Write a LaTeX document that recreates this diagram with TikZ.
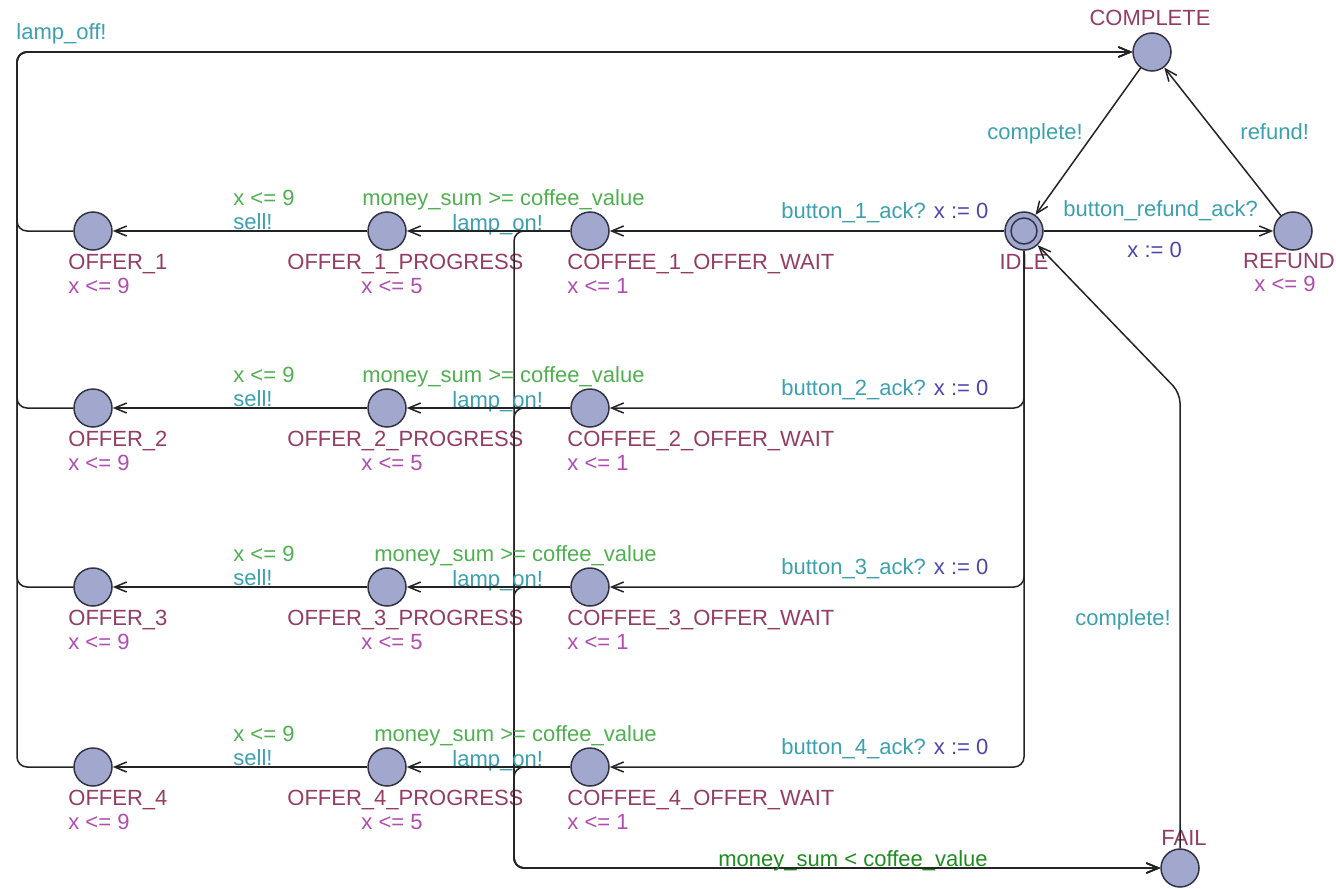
\documentclass[tikz,border=0pt]{standalone}
\usepackage{fontspec}
\setmainfont{Liberation Sans}
\usetikzlibrary{arrows.meta}
\definecolor{locfill}{RGB}{162,167,205}
\definecolor{locborder}{RGB}{50,52,70}
\definecolor{edgecol}{RGB}{35,35,35}
\definecolor{namecol}{RGB}{148,60,100}
\definecolor{invcol}{RGB}{176,76,176}
\definecolor{guardcol}{RGB}{80,175,80}
\definecolor{guarddark}{RGB}{30,140,30}
\definecolor{synccol}{RGB}{60,160,175}
\definecolor{assigncol}{RGB}{75,70,170}
\newcommand{\labfont}{\fontsize{11}{13}\selectfont}
\tikzset{
  loc/.style={circle, draw=locborder, fill=locfill, line width=0.75pt, minimum size=19pt, inner sep=0pt},
  edge/.style={draw=edgecol, line width=0.75pt, -{Straight Barb[length=6pt,width=5pt]}, rounded corners=5pt},
  lbl/.style={anchor=base west, inner sep=0pt, font=\labfont},
  nm/.style={lbl, text=namecol},
  inv/.style={lbl, text=invcol},
  grd/.style={lbl, text=guardcol},
  syn/.style={lbl, text=synccol},
  asg/.style={lbl, text=assigncol},
}
\begin{document}
\begin{tikzpicture}[x=0.5pt,y=-0.5pt]
\useasboundingbox (0,0) rectangle (1336,888);
% fixed locations
\node[loc] (idle) at (1024,231) {};
\draw[locborder, line width=0.75pt] (idle.center) circle[radius=6.5pt];
\node[loc] (refund) at (1293,231) {};
\node[loc] (complete) at (1152,52) {};
\node[loc] (fail) at (1180,868) {};
\node[nm, anchor=base] (nidle) at (1024,269) {IDLE};
\node[nm, anchor=base] (nrefund) at (1289,268) {REFUND};
\node[inv, anchor=base] (irefund) at (1285,291) {x <= 9};
\node[nm, anchor=base] (ncomplete) at (1150,26) {COMPLETE};
\node[nm, anchor=base] (nfail) at (1184,845) {FAIL};
% rows
\foreach \i/\r/\mx in {1/231/362, 2/408/362, 3/587/374, 4/767/374}{
  \node[loc] (o\i) at (93,\r) {};
  \node[loc] (p\i) at (387,\r) {};
  \node[loc] (w\i) at (590,\r) {};
  \node[nm] (no\i) at (68,\r+38) {OFFER\_\i};
  \node[inv] (io\i) at (68,\r+62) {x <= 9};
  \node[nm] (np\i) at (287,\r+38) {OFFER\_\i\_PROGRESS};
  \node[inv] (ip\i) at (361,\r+62) {x <= 5};
  \node[nm] (nw\i) at (567,\r+38) {COFFEE\_\i\_OFFER\_WAIT};
  \node[inv] (iw\i) at (567,\r+62) {x <= 1};
  \node[grd] (gs\i) at (233,\r-26) {x <= 9};
  \node[syn] (ss\i) at (233,\r-2) {sell!};
  \node[grd] (gm\i) at (\mx,\r-26) {money\_sum >= coffee\_value};
  \node[syn] (sl\i) at (452,\r-1) {lamp\_on!};
  \node[lbl] (sb\i) at (781,\r-13) {\textcolor{synccol}{button\_\i\_ack?} \textcolor{assigncol}{x := 0}};
  \draw[edge] (w\i) -- (p\i);
  \draw[edge] (p\i) -- (o\i);
  \draw[edge] (o\i) -- (17,\r) -- (17,52) -- (complete);
  \draw[edge] (w\i) -- (514,\r) -- (514,868) -- (fail);
}
\draw[edge] (idle) -- (w1);
\foreach \i/\r in {2/408, 3/587, 4/767}{
  \draw[edge] (idle) -- (1024,\r) -- (w\i);
}
\draw[edge] (idle) -- (refund);
\draw[edge] (refund) -- (complete);
\draw[edge] (complete) -- (idle);
\draw[edge] (fail) -- (1180,393) -- (idle);
% edge labels
\node[syn] (lampoff) at (16,40) {lamp\_off!};
\node[syn] (cidle) at (987,140) {complete!};
\node[syn] (lrefund) at (1240,140) {refund!};
\node[syn] (lbrefund) at (1063,216) {button\_refund\_ack?};
\node[asg] (lxrefund) at (1127,257) {x := 0};
\node[syn] (cfail) at (1075,625) {complete!};
\node[lbl, text=guarddark] (gfail) at (718,866) {money\_sum < coffee\_value};
\end{tikzpicture}
\end{document}
